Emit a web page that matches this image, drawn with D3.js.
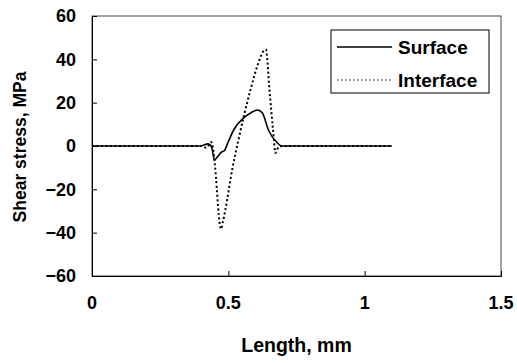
<!DOCTYPE html>
<html>
<head>
<meta charset="utf-8">
<script src="https://cdn.jsdelivr.net/npm/d3@7"></script>
<style>
  html, body { margin: 0; padding: 0; background: #fff; }
  svg { display: block; }
  text { font-family: "Liberation Sans", Arial, sans-serif; font-weight: bold; fill: #000; }
</style>
</head>
<body>
<svg id="chart" width="517" height="363"></svg>
<script>
// Shear stress along the length, mm -> MPa
const surfaceX = [0, 0.40, 0.41, 0.425, 0.435, 0.44, 0.449, 0.46, 0.475, 0.485, 0.50, 0.52, 0.555, 0.585, 0.607, 0.625, 0.647, 0.68, 0.695, 0.75, 1.1];
const surfaceY = [0, 0, 0.5, 1.0, 0.3, -1, -6.5, -5, -2.8, -2.2, 2, 7.5, 12.9, 15.5, 16.6, 15.2, 7.4, 1.4, 0, 0, 0];

const interfaceX = [0, 0.40, 0.42, 0.437, 0.445, 0.455, 0.465, 0.473, 0.48, 0.489, 0.514, 0.537, 0.581, 0.610, 0.630, 0.638, 0.651, 0.664, 0.673, 0.684, 0.70, 1.1];
const interfaceY = [0, 0, -0.8, 1.8, -2, -15, -32, -38.3, -35, -29.5, -11, 2.8, 25.8, 38.3, 44, 44.5, 25.8, 7.4, -3.2, -0.5, 0, 0];

const xTicks = [0, 0.5, 1, 1.5];
const xTickLabels = ["0", "0.5", "1", "1.5"];
const yTicks = [-60, -40, -20, 0, 20, 40, 60];
const yTickLabels = ["\u221260", "\u221240", "\u221220", "0", "20", "40", "60"];
const seriesNames = ["Surface", "Interface"];

const svg = d3.select("#chart");
const x = d3.scaleLinear().domain([0, 1.5]).range([92, 501]);
const y = d3.scaleLinear().domain([-60, 60]).range([276, 16]);

// plot frame
svg.append("rect")
  .attr("x", x(0)).attr("y", y(60))
  .attr("width", x(1.5) - x(0)).attr("height", y(-60) - y(60))
  .attr("fill", "none").attr("stroke", "#444").attr("stroke-width", 1);

// inward ticks
const yAxis = d3.axisRight(y).tickValues(yTicks).tickSize(5).tickFormat("");
svg.append("g").attr("transform", `translate(${x(0)},0)`).call(yAxis)
  .call(g => g.select(".domain").attr("stroke", "#000"))
  .call(g => g.selectAll(".tick line").attr("stroke", "#000"));
const xAxis = d3.axisTop(x).tickValues(xTicks).tickSize(5).tickFormat("");
svg.append("g").attr("transform", `translate(0,${y(-60)})`).call(xAxis)
  .call(g => g.select(".domain").attr("stroke", "#000"))
  .call(g => g.selectAll(".tick line").attr("stroke", "#000"));

// tick labels
svg.append("g").selectAll("text").data(yTicks).join("text")
  .attr("x", 76).attr("y", d => y(d)).attr("dy", "0.36em")
  .attr("text-anchor", "end").attr("font-size", 18)
  .text((d, i) => yTickLabels[i]);
svg.append("g").selectAll("text").data(xTicks).join("text")
  .attr("x", d => x(d)).attr("y", 303).attr("dy", "0.36em")
  .attr("text-anchor", "middle").attr("font-size", 18)
  .text((d, i) => xTickLabels[i]);

// axis titles
svg.append("text").attr("x", (x(0) + x(1.5)) / 2).attr("y", 345).attr("dy", "0.36em")
  .attr("text-anchor", "middle").attr("font-size", 19.5).text("Length, mm");
svg.append("text").attr("transform", `translate(20,147) rotate(-90)`).attr("dy", "0.36em")
  .attr("text-anchor", "middle").attr("font-size", 17.5).text("Shear stress, MPa");

// series
const line = d3.line().x(d => x(d[0])).y(d => y(d[1])).curve(d3.curveMonotoneX);
const surface = surfaceX.map((v, i) => [v, surfaceY[i]]);
const iface = interfaceX.map((v, i) => [v, interfaceY[i]]);

svg.append("path").datum(iface).attr("d", line)
  .attr("fill", "none").attr("stroke", "#000").attr("stroke-width", 2)
  .attr("stroke-dasharray", "2,2.5");
svg.append("path").datum(surface).attr("d", line)
  .attr("fill", "none").attr("stroke", "#000").attr("stroke-width", 1.6);

// legend
const lg = svg.append("g");
lg.append("rect").attr("x", 331).attr("y", 30).attr("width", 158).attr("height", 63)
  .attr("fill", "#fff").attr("stroke", "#000").attr("stroke-width", 1);
const legendRows = [
  { name: seriesNames[0], y: 47, dash: null, w: 1.4 },
  { name: seriesNames[1], y: 80, dash: "1.5,2.5", w: 1.2 }
];
legendRows.forEach(r => {
  lg.append("line").attr("x1", 337).attr("x2", 392).attr("y1", r.y).attr("y2", r.y)
    .attr("stroke", "#000").attr("stroke-width", r.w)
    .attr("stroke-dasharray", r.dash);
  lg.append("text").attr("x", 398).attr("y", r.y).attr("dy", "0.36em")
    .attr("font-size", 19).text(r.name);
});
</script>
</body>
</html>
